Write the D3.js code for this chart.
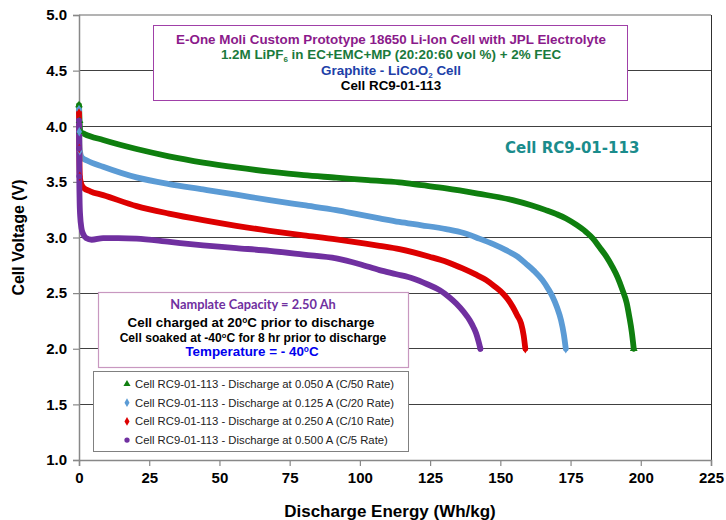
<!DOCTYPE html>
<html>
<head>
<meta charset="utf-8">
<script src="https://cdn.jsdelivr.net/npm/d3@7"></script>
<style>
  html, body { margin: 0; padding: 0; background: #fff; }
  svg { display: block; }
</style>
</head>
<body>
<svg id="chart" width="726" height="520"></svg>
<script>
// ---------------- DATA ----------------
const xTicks = [0, 25, 50, 75, 100, 125, 150, 175, 200, 225];
const yTicks = [1.0, 1.5, 2.0, 2.5, 3.0, 3.5, 4.0, 4.5, 5.0];

const seriesNames = [
  "Cell RC9-01-113 - Discharge at 0.050 A (C/50 Rate)",
  "Cell RC9-01-113 - Discharge at 0.125 A (C/20 Rate)",
  "Cell RC9-01-113 - Discharge at 0.250 A (C/10 Rate)",
  "Cell RC9-01-113 - Discharge at 0.500 A (C/5 Rate)"
];

// [Discharge energy (Wh/kg), Cell voltage (V)]
const c50 = [[0,4.19],[0.2,4.05],[0.5,3.95],[2,3.93],[8.6,3.876],[20.5,3.795],[32,3.73],[44.2,3.674],[56,3.63],[67.9,3.592],[80,3.56],[91.6,3.538],[103,3.515],[114,3.495],[122,3.47],[130.7,3.442],[142,3.395],[154.4,3.336],[161,3.29],[166.2,3.246],[170,3.21],[173.4,3.171],[177,3.115],[180.5,3.05],[183,2.99],[185.2,2.916],[187.7,2.83],[189.9,2.736],[191.8,2.64],[193.5,2.527],[195,2.41],[195.9,2.29],[196.8,2.15],[197.5,2.0]];
const c20 = [[0,4.15],[0.1,3.95],[0.3,3.78],[1,3.72],[3,3.69],[8.6,3.636],[20.5,3.54],[32,3.48],[44.2,3.432],[56,3.385],[67.9,3.336],[80,3.29],[91.6,3.246],[100,3.205],[107,3.172],[114,3.14],[122,3.11],[130.7,3.075],[137,3.04],[142.5,2.99],[147.5,2.94],[152,2.886],[156,2.83],[159,2.767],[162,2.70],[165,2.617],[167,2.54],[168.6,2.467],[170.2,2.37],[171.6,2.257],[172.6,2.13],[173.3,2.0]];
const c10 = [[0,4.12],[0.1,3.8],[0.3,3.55],[0.6,3.5],[1.5,3.45],[4,3.415],[8.6,3.381],[20.5,3.282],[32,3.215],[44.2,3.156],[56,3.105],[67.9,3.06],[80,3.02],[91.6,2.983],[102,2.945],[107,2.925],[114.1,2.895],[124.8,2.827],[131,2.78],[136.6,2.722],[141,2.67],[145,2.617],[148,2.56],[150.9,2.497],[152.8,2.44],[154.4,2.377],[156,2.30],[157.4,2.227],[158.3,2.12],[158.9,2.0]];
const c5 = [[0,4.05],[0.05,3.8],[0.1,3.55],[0.2,3.35],[0.4,3.2],[0.9,3.08],[1.5,3.03],[2.5,2.995],[4.5,2.98],[8.6,2.995],[14,2.995],[20.5,2.99],[32.3,2.96],[44.2,2.93],[56,2.905],[67.9,2.88],[80,2.846],[91.6,2.812],[100,2.76],[107,2.707],[113,2.67],[118.9,2.632],[124,2.58],[128.4,2.527],[131.5,2.47],[134.3,2.407],[137,2.33],[139.1,2.257],[140.5,2.19],[141.4,2.137],[142.3,2.06],[142.9,2.0]];

const titleLines = [
  "E-One Moli Custom Prototype 18650 Li-Ion Cell with JPL Electrolyte",
  "1.2M LiPF|6| in EC+EMC+MP (20:20:60 vol %) + 2% FEC",
  "Graphite - LiCoO|2| Cell",
  "Cell RC9-01-113"
];

// ---------------- LAYOUT ----------------
const svg = d3.select("#chart");
const L = 79, R = 711, T = 15, B = 460;
const x = d3.scaleLinear().domain([0, 225]).range([L, R]);
const y = d3.scaleLinear().domain([1.0, 5.0]).range([B, T]);

const series = [
  { data: c50, color: "#0f7f0f", sym: d3.symbolTriangle, name: seriesNames[0] },
  { data: c20, color: "#5b9bd5", sym: d3.symbolDiamond, name: seriesNames[1] },
  { data: c10, color: "#dd0000", sym: d3.symbolDiamond, name: seriesNames[2] },
  { data: c5,  color: "#7030a0", sym: d3.symbolCircle, name: seriesNames[3] }
];

// gridlines
svg.append("g").selectAll("line")
  .data(yTicks.filter(v => v > 1.0 && v < 5.0))
  .join("line")
  .attr("x1", L).attr("x2", R)
  .attr("y1", d => y(d)).attr("y2", d => y(d))
  .attr("stroke", "#404040").attr("stroke-width", 1).attr("shape-rendering", "crispEdges");

// frame top & right
svg.append("line").attr("x1", L).attr("x2", R).attr("y1", T).attr("y2", T)
  .attr("stroke", "#9a9a9a").attr("stroke-width", 1.5);
svg.append("line").attr("x1", R).attr("x2", R).attr("y1", T).attr("y2", B)
  .attr("stroke", "#303030").attr("stroke-width", 1).attr("shape-rendering", "crispEdges");

// axes
const xAxis = d3.axisBottom(x).tickValues(xTicks).tickSize(6).tickPadding(6).tickFormat(d3.format("d"));
const yAxis = d3.axisLeft(y).tickValues(yTicks).tickSize(6).tickPadding(5).tickFormat(d3.format(".1f"));

const gx = svg.append("g").attr("transform", `translate(0,${B})`).call(xAxis);
const gy = svg.append("g").attr("transform", `translate(${L},0)`).call(yAxis);
[gx, gy].forEach(g => {
  g.select(".domain").attr("stroke", "#888").attr("stroke-width", 1.5);
  g.selectAll(".tick line").attr("stroke", "#888").attr("stroke-width", 1.2);
  g.selectAll(".tick text")
    .attr("fill", "#000")
    .style("font-family", "'Liberation Sans', Arial, sans-serif")
    .style("font-weight", "bold")
    .style("font-size", "15px");
});
gx.selectAll(".tick text").attr("dy", "0.72em");
gy.selectAll(".tick text").attr("dx", "-1");

// axis titles
svg.append("text")
  .attr("transform", `translate(24,${(T + B) / 2}) rotate(-90)`)
  .attr("text-anchor", "middle")
  .style("font-family", "'Liberation Sans', Arial, sans-serif")
  .style("font-weight", "bold").style("font-size", "16px")
  .text("Cell Voltage (V)");
svg.append("text")
  .attr("x", 390).attr("y", 517)
  .attr("text-anchor", "middle")
  .style("font-family", "'Liberation Sans', Arial, sans-serif")
  .style("font-weight", "bold").style("font-size", "17px")
  .text("Discharge Energy (Wh/kg)");

// curves
const line = d3.line().x(d => x(d[0])).y(d => y(d[1])).curve(d3.curveMonotoneX);
svg.append("g").selectAll("path")
  .data(series)
  .join("path")
  .attr("d", d => line(d.data))
  .attr("fill", "none")
  .attr("stroke", d => d.color)
  .attr("stroke-width", 5.8)
  .attr("stroke-linecap", "round")
  .attr("stroke-linejoin", "round");

// start markers along the initial voltage drop (measured points at x = 0)
svg.append("g").selectAll("path")
  .data(series.flatMap(s => s.data.slice(0, 3).map(p => ({ p, s }))))
  .join("path")
  .attr("transform", d => `translate(${x(d.p[0])},${y(d.p[1])})`)
  .attr("d", d => d3.symbol().type(d.s.sym).size(26)())
  .attr("fill", d => d.s.color);

// end markers
svg.append("g").selectAll("path")
  .data(series.map(s => ({ p: s.data[s.data.length - 1], s })))
  .join("path")
  .attr("transform", d => `translate(${x(d.p[0])},${y(d.p[1])})`)
  .attr("d", d => d3.symbol().type(d.s.sym).size(26)())
  .attr("fill", d => d.s.color);

// ---------------- TITLE BOX ----------------
svg.append("rect").attr("x", 153.5).attr("y", 25.5).attr("width", 474).attr("height", 75)
  .attr("fill", "#fff").attr("stroke", "#a040a8").attr("stroke-width", 1);

const titleColors = ["#8b1a8b", "#1a7a3c", "#2040a8", "#000"];
const titleY = [44, 59, 75, 90];
titleLines.forEach((txt, i) => {
  const t = svg.append("text")
    .attr("x", 391).attr("y", titleY[i])
    .attr("text-anchor", "middle")
    .attr("fill", titleColors[i])
    .style("font-family", "'Liberation Sans', Arial, sans-serif")
    .style("font-weight", "bold").style("font-size", "13.4px");
  txt.split("|").forEach((part, j) => {
    const ts = t.append("tspan").text(part);
    if (j % 2 === 1) { ts.attr("dy", 2.5).style("font-size", "8px"); }
    else if (j > 0) { ts.attr("dy", -2.5); }
  });
});

// ---------------- ANNOTATION BOX ----------------
svg.append("rect").attr("x", 98.5).attr("y", 292.5).attr("width", 310).attr("height", 75)
  .attr("fill", "#fff").attr("stroke", "#c898c0").attr("stroke-width", 1.2);

function degText(sel, before, after) {
  sel.append("tspan").text(before);
  sel.append("tspan").attr("dy", -4).style("font-size", "0.62em").text("o");
  sel.append("tspan").attr("dy", 4).text(after);
}
svg.append("text").attr("x", 253).attr("y", 309).attr("text-anchor", "middle")
  .attr("fill", "#7030a0")
  .style("font-family", "Lato, 'Open Sans', sans-serif")
  .style("font-weight", "bold").style("font-size", "12.8px")
  .text("Namplate Capacity = 2.50 Ah");
degText(svg.append("text").attr("x", 251).attr("y", 327).attr("text-anchor", "middle")
  .attr("fill", "#000")
  .style("font-family", "'Liberation Sans', Arial, sans-serif")
  .style("font-weight", "bold").style("font-size", "13.4px"),
  "Cell charged at 20", "C prior to discharge");
degText(svg.append("text").attr("x", 253).attr("y", 342).attr("text-anchor", "middle")
  .attr("fill", "#000")
  .style("font-family", "'Liberation Sans', Arial, sans-serif")
  .style("font-weight", "bold").style("font-size", "12.1px"),
  "Cell soaked at -40", "C for 8 hr prior to discharge");
degText(svg.append("text").attr("x", 252).attr("y", 356).attr("text-anchor", "middle")
  .attr("fill", "#0000ee")
  .style("font-family", "'Liberation Sans', Arial, sans-serif")
  .style("font-weight", "bold").style("font-size", "13.4px"),
  "Temperature = - 40", "C");

// ---------------- LEGEND ----------------
svg.append("rect").attr("x", 93.5).attr("y", 371.5).attr("width", 315).attr("height", 80)
  .attr("fill", "#fff").attr("stroke", "#808080").attr("stroke-width", 1);
const lg = svg.append("g").selectAll("g").data(series).join("g")
  .attr("transform", (d, i) => `translate(127,${384 + i * 18.7})`);
lg.append("path")
  .attr("d", d => d3.symbol().type(d.sym).size(22)())
  .attr("fill", d => d.color);
lg.append("text").attr("x", 8).attr("y", 4)
  .attr("fill", "#222")
  .style("font-family", "'Liberation Sans', Arial, sans-serif")
  .style("font-size", "11.3px")
  .text(d => d.name);

// ---------------- CELL LABEL ----------------
svg.append("text").attr("x", 505).attr("y", 153)
  .attr("fill", "#1a8c8c")
  .style("font-family", "'DejaVu Sans', sans-serif")
  .style("font-weight", "bold").style("font-size", "15px")
  .text("Cell RC9-01-113");
</script>
</body>
</html>
